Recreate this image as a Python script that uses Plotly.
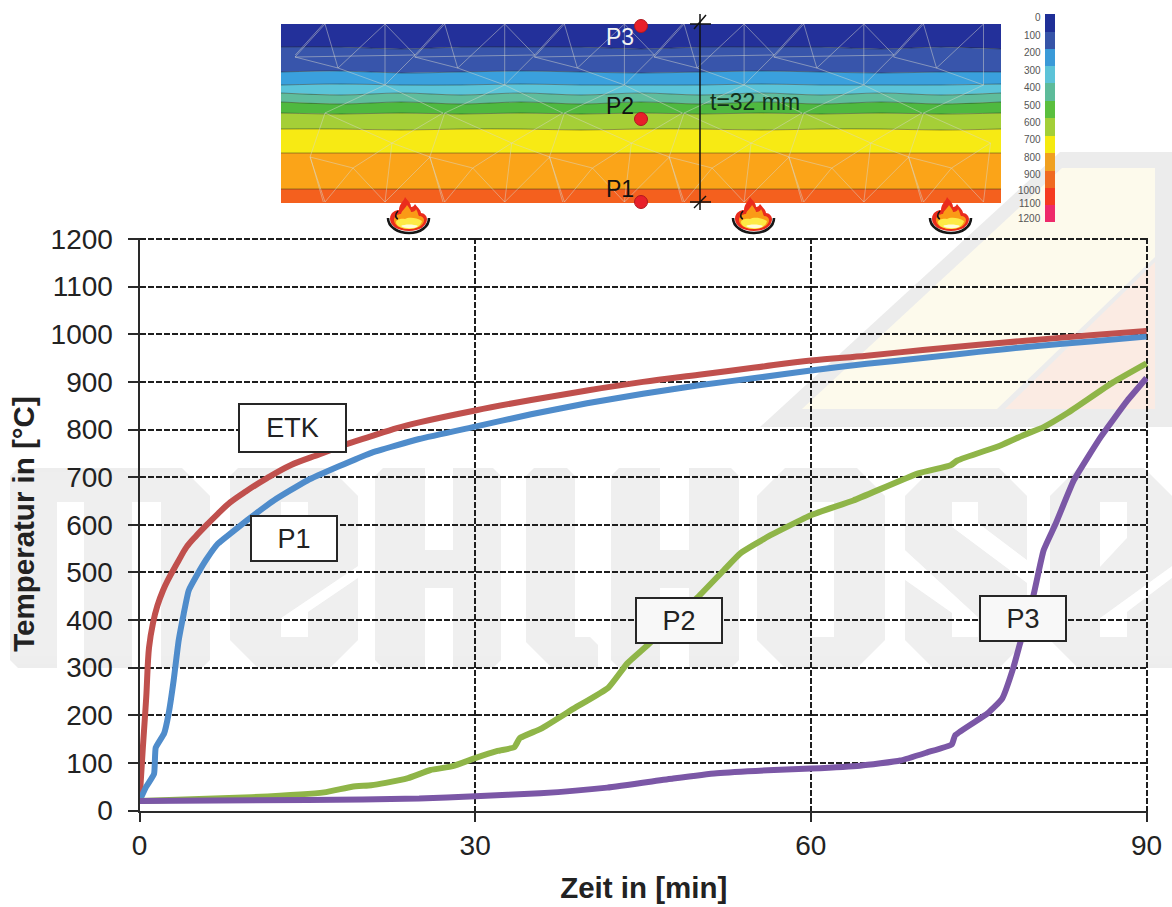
import plotly.graph_objects as go

# ---- chart data (minutes, deg C) ----
etk_t = [0, 0.3, 0.6, 0.85, 1.2, 1.6, 2.1, 2.5, 3, 3.5, 4.2, 5, 6.1, 7, 8.1, 9.5, 11.4, 13.5, 16.1, 18, 20.6, 23, 25, 30, 35, 40, 45, 50, 55, 60, 65, 70, 75, 80, 85, 90]
etk_v = [20, 132, 237, 342, 393, 430, 462, 482, 504, 525, 553, 575, 602, 623, 647, 670, 698, 725, 748, 765, 785, 803, 815, 840, 862, 882, 900, 915, 930, 945, 955, 967, 978, 988, 998, 1007]
p1_t = [0, 0.6, 1.3, 1.45, 2.2, 2.6, 3.05, 3.5, 3.95, 4.4, 5.2, 6, 7, 8.2, 9.6, 12, 15, 20.6, 25, 30, 35, 40, 45, 50, 55, 60, 65, 70, 75, 80, 85, 90]
p1_v = [20, 50, 77, 132, 162, 203, 273, 357, 413, 462, 497, 528, 560, 583, 609, 651, 693, 750, 780, 806, 832, 855, 875, 893, 908, 924, 938, 950, 963, 975, 985, 995]
p2_t = [0, 10, 16.5, 19, 20.7, 22, 24, 26, 28, 30, 32, 33.5, 34, 35.9, 38.8, 41.9, 43.6, 45.4, 49.9, 52.2, 53.7, 56.4, 60, 63.8, 69.6, 72.5, 73.1, 77, 79, 80.8, 82.9, 87, 90]
p2_v = [20, 28, 38, 50, 53, 58, 68, 85, 93, 110, 125, 133, 152, 172, 214, 258, 309, 347, 448, 504, 540, 578, 620, 651, 708, 725, 735, 767, 788, 805, 834, 899, 939]
p3_t = [0, 15, 25, 30, 35.8, 41.8, 47.7, 51.6, 56.7, 60, 64.4, 68, 70.4, 72.6, 72.9, 75.8, 77.1, 78.1, 78.7, 79.9, 80.8, 81.9, 83.5, 85.9, 88.3, 90]
p3_v = [20, 22, 25, 30, 36, 48, 67, 78, 85, 88, 94, 105, 122, 139, 158, 204, 235, 300, 351, 452, 546, 603, 693, 784, 861, 908]
series_names = ["ETK", "P1", "P2", "P3"]
x_ticks = [0, 30, 60, 90]
y_ticks = list(range(0, 1201, 100))

# ---- section picture: band boundaries sampled along the slab ----
band_x = [281, 341, 401, 461, 521, 581, 641, 701, 761, 821, 881, 941, 1001]
boundaries = [
    [24, 24, 24, 24, 24, 24, 24, 24, 24, 24, 24, 24, 24],
    [47, 47, 49, 47, 47, 47, 49, 47, 47, 47, 49, 47, 49],
    [72, 71, 73, 72, 71, 72, 73, 72, 71, 72, 73, 72, 72],
    [85, 84, 85, 85, 84, 85, 85, 85, 84, 85, 85, 85, 84],
    [93, 95, 93, 95, 93, 95, 93, 95, 93, 95, 93, 95, 93],
    [102, 104, 102, 104, 102, 104, 102, 104, 102, 104, 102, 104, 102],
    [113, 114, 113, 114, 113, 114, 113, 114, 113, 114, 113, 114, 113],
    [129, 129, 130, 129, 129, 130, 129, 129, 130, 129, 129, 130, 129],
    [153, 153, 153, 153, 153, 153, 153, 153, 153, 153, 153, 153, 153],
    [189, 189, 189, 189, 189, 189, 189, 189, 189, 189, 189, 189, 189],
    [203, 203, 203, 203, 203, 203, 203, 203, 203, 203, 203, 203, 203],
]
band_colors = ["#23309a", "#3855ab", "#3aa0dd", "#5bc4d9", "#5fbd9c", "#4fb93f", "#a5cf37", "#f7ea14", "#fba418", "#f4601e"]
scale_labels = ["0", "100", "200", "300", "400", "500", "600", "700", "800", "900", "1000", "1100", "1200"]
scale_label_y = [17, 35, 52, 70, 87, 105, 122, 139, 157, 174, 190, 203, 218]
scale_edges = [14, 32, 49, 66, 83, 101, 118, 136, 153, 171, 188, 205, 222]
scale_colors = ["#1f2f97", "#3654a8", "#3a9ad8", "#5cc3d8", "#5dbb9a", "#5abf3e", "#a3cf38", "#f5ea10", "#f0a020", "#f06a20", "#f53b20", "#ee2a6a"]
mesh_period = 119.7
mesh_edges = [
    ((325, 24), (295, 57)), ((325, 24), (338, 68)), ((295, 57), (338, 68)), ((295, 57), (415, 55)),
    ((338, 68), (385, 24)), ((338, 68), (385, 85)), ((385, 24), (385, 85)), ((385, 24), (415, 55)),
    ((415, 55), (443, 24)), ((415, 55), (385, 85)), ((385, 85), (325, 113)), ((385, 85), (443, 113)),
    ((325, 113), (392, 143)), ((392, 143), (443, 113)), ((325, 113), (310, 157)), ((310, 157), (353, 168)),
    ((392, 143), (353, 168)), ((353, 168), (325, 202)), ((310, 157), (325, 202)), ((353, 168), (385, 202)),
    ((392, 143), (385, 202)), ((392, 143), (430, 157)), ((430, 157), (385, 202)), ((430, 157), (443, 202)),
]
flame_x = [408, 753, 950]
point_labels = [("P3", 620, 37, "#f2f2f2"), ("P2", 620, 106, "#111111"), ("P1", 620, 189, "#111111")]
point_dots_y = [26, 119, 202]

# ---- boxed labels: name, left, right, top, bottom (page pixels) ----
boxes = [("ETK", 238, 347, 403, 453), ("P1", 250, 338, 515, 562), ("P2", 635, 723, 597, 644), ("P3", 979, 1067, 595, 642)]

W, H = 1172, 907
FONT = "Liberation Sans, Arial, sans-serif"
fig = go.Figure()


def poly(points):
    return "M " + " L ".join(f"{x},{y}" for x, y in points) + " Z"


def bg(points, color):
    fig.add_shape(type="path", path=poly(points), xref="x", yref="y", fillcolor=color, line_width=0, layer="below")


# ---- watermark, behind everything ----
WM = "#ededed"
T, B = 468, 668
bg([(760, 427), (1060, 152), (1172, 152), (1172, 427)], "#ececec")
bg([(802, 409), (1062, 168), (1155, 168), (1155, 257), (997, 409)], "#fdfaec")
bg([(1005, 409), (1152, 265), (1155, 262), (1155, 409)], "#fbebe3")


def glyph(l, r, ch=28, bl=0, br=0):
    bg([(l, T + 8), (l + 8, T), (r - ch, T), (r, T + ch), (r, B - max(br, 8)), (r - max(br, 8), B), (l + max(bl, 8), B), (l, B - max(bl, 8))], WM)


glyph(10, 210)
bg([(57, 502), (84, 502), (84, 670), (57, 670)], "#ffffff")
bg([(132, 502), (161, 502), (161, 670), (132, 670)], "#ffffff")
glyph(230, 358, 28, 28, 28)
bg([(281, 502), (308, 502), (308, 540), (281, 562)], "#ffffff")
bg([(358, 566), (281, 618), (281, 637), (308, 637), (308, 612), (358, 578)], "#ffffff")
glyph(375, 501, 8)
bg([(425, 460), (453, 460), (453, 550), (425, 550)], "#ffffff")
bg([(425, 588), (453, 588), (453, 670), (425, 670)], "#ffffff")
bg([(526, 476), (534, 468), (567, 468), (575, 476), (575, 637), (590, 637), (598, 645), (598, 668), (552, 668), (526, 642)], WM)
glyph(611, 739, 8)
bg([(660, 460), (689, 460), (689, 550), (660, 550)], "#ffffff")
bg([(660, 588), (689, 588), (689, 670), (660, 670)], "#ffffff")
glyph(757, 885, 28, 28, 28)
bg([(785, 468), (757, 468), (757, 496)], "#ffffff")
bg([(812, 502), (834, 502), (834, 637), (812, 637)], "#ffffff")
bg([(905, 496), (933, 468), (999, 468), (1027, 496), (1027, 640), (999, 668), (933, 668), (905, 640)], WM)
bg([(952, 502), (978, 502), (978, 523), (1027, 560), (1027, 583), (952, 527)], "#ffffff")
bg([(905, 550), (978, 617), (978, 637), (952, 637), (952, 613), (905, 580)], "#ffffff")
bg([(1050, 496), (1078, 468), (1144, 468), (1172, 496), (1172, 668), (1078, 668), (1050, 640)], WM)
bg([(1100, 502), (1127, 502), (1127, 538), (1100, 567)], "#ffffff")
bg([(1172, 566), (1100, 618), (1100, 637), (1127, 637), (1127, 612), (1172, 578)], "#ffffff")

# soft lightening towards the middle of the watermark
for d in range(8, 100, 8):
    fig.add_shape(type="rect", x0=0, x1=W, y0=568 - d, y1=568 + d, xref="x", yref="y", fillcolor="rgba(255,255,255,0.06)", line_width=0, layer="below")

# ---- slab section ----
for i, color in enumerate(band_colors):
    xs = band_x + band_x[::-1] + [band_x[0]]
    ys = boundaries[i] + boundaries[i + 1][::-1] + [boundaries[i][0]]
    fig.add_trace(go.Scatter(x=xs, y=ys, mode="lines", fill="toself", fillcolor=color, line_width=0,
                             hoverinfo="skip", showlegend=False, xaxis="x", yaxis="y"))
for row in boundaries[1:-1]:
    fig.add_trace(go.Scatter(x=band_x, y=row, mode="lines", line=dict(color="rgba(30,40,30,0.45)", width=1, shape="spline", smoothing=1),
                             hoverinfo="skip", showlegend=False, xaxis="x", yaxis="y"))
mx, my = [], []
for k in range(-1, 6):
    for a, b in mesh_edges:
        xa, xb = a[0] + k * mesh_period, b[0] + k * mesh_period
        if xa < 281 or xb < 281 or xa > 1001 or xb > 1001:
            continue
        mx += [xa, xb, None]
        my += [a[1], b[1], None]
fig.add_trace(go.Scatter(x=mx, y=my, mode="lines", line=dict(color="rgba(215,215,205,0.48)", width=1),
                         hoverinfo="skip", showlegend=False, xaxis="x", yaxis="y"))
# thickness dimension
fig.add_trace(go.Scatter(x=[700, 700, None, 690, 711, None, 694, 706, None, 690, 711, None, 694, 706],
                         y=[14, 210, None, 24, 24, None, 29, 15, None, 202, 202, None, 208, 196],
                         mode="lines", line=dict(color="#111111", width=1.5), hoverinfo="skip", showlegend=False, xaxis="x", yaxis="y"))
fig.add_trace(go.Scatter(x=[641] * len(point_dots_y), y=point_dots_y, mode="markers",
                         marker=dict(color="#e8202a", size=13, line=dict(color="#b01820", width=1)),
                         hoverinfo="skip", showlegend=False, xaxis="x", yaxis="y"))
# colour scale
fig.add_trace(go.Heatmap(x=[1045, 1055], y=scale_edges, z=[[i] for i in range(len(scale_colors))],
                         colorscale=[[v, c] for i, c in enumerate(scale_colors) for v in (i / len(scale_colors), (i + 1) / len(scale_colors))],
                         zmin=-0.5, zmax=len(scale_colors) - 0.5, showscale=False, hoverinfo="skip", xaxis="x", yaxis="y"))

# ---- curves ----
for name, t, v, c, sm in zip(series_names, [etk_t, p1_t, p2_t, p3_t], [etk_v, p1_v, p2_v, p3_v],
                             ["#c0504d", "#4f8ccb", "#8fb548", "#7b57a6"], [1.0, 0.4, 0.4, 0.4]):
    fig.add_trace(go.Scatter(x=t, y=v, name=name, mode="lines", line=dict(color=c, width=6, shape="spline", smoothing=sm), cliponaxis=False,
                             showlegend=False, xaxis="x2", yaxis="y2"))

# ---- flames: (command, control points relative to the flame centre) ----
flame_outer = [("M", [(-18, 3)]), ("C", [(-18, -4), (-12, -6), (-9, -6)]), ("C", [(-9, -12), (-4, -15), (-3, -19)]),
               ("C", [(0, -15), (3, -13), (3, -9)]), ("C", [(5, -9), (6, -10), (7, -12)]), ("C", [(10, -8), (13, -6), (13, -3)]),
               ("C", [(16, -3), (19, 0), (19, 3)]), ("C", [(19, 10), (12, 15), (1, 15)]), ("C", [(-10, 15), (-18, 10), (-18, 3)])]
flame_mid = [("M", [(-14, 4)]), ("C", [(-14, 0), (-10, -2), (-7, -2)]), ("C", [(-6, -6), (-2, -8), (-1, -11)]),
             ("C", [(1, -8), (3, -6), (3, -4)]), ("C", [(6, -4), (8, -6), (8, -7)]), ("C", [(10, -4), (10, -1), (11, 0)]),
             ("C", [(14, 0), (16, 2), (16, 4)]), ("C", [(16, 9), (10, 13), (1, 13)]), ("C", [(-8, 13), (-14, 9), (-14, 4)])]
flame_yellow = [("M", [(-12, 6)]), ("C", [(-12, 4), (-7, 2), (-3, 3)]), ("C", [(0, 1), (8, 1), (14, 5)]),
                ("C", [(13, 10), (8, 13), (1, 13)]), ("C", [(-6, 13), (-12, 10), (-12, 6)])]
flame_white = [("M", [(-7, 10)]), ("C", [(-4, 8), (6, 8), (10, 10)]), ("C", [(7, 13), (-3, 13), (-7, 10)])]
flame_rim = [("M", [(-20, 2)]), ("C", [(-20, 11), (-10, 17), (1, 17)]), ("C", [(12, 17), (21, 11), (21, 2)])]
flame_curl = [("M", [(-10, -5)]), ("C", [(-13, -2), (-13, 2), (-10, 3)])]


def rel_path(segments, cx, cy, close=True):
    out = []
    for cmd, pts in segments:
        out.append(cmd + " " + " ".join(f"{cx + dx},{cy + dy}" for dx, dy in pts))
    return " ".join(out) + (" Z" if close else "")


for cx in flame_x:
    for seg, col in ((flame_outer, "#ea2c1c"), (flame_mid, "#fa9a16"), (flame_yellow, "#fdea45"), (flame_white, "#fffbd8")):
        fig.add_shape(type="path", xref="x", yref="y", layer="above", fillcolor=col, line_width=0, path=rel_path(seg, cx, 216))
    for seg, wid in ((flame_rim, 2.6), (flame_curl, 1.6)):
        fig.add_shape(type="path", xref="x", yref="y", layer="above", line=dict(color="#161616", width=wid), path=rel_path(seg, cx, 216, close=False))

# ---- texts ----
for txt, x, y, c in point_labels:
    fig.add_annotation(text=txt, x=x, y=y, xref="x", yref="y", showarrow=False, font=dict(family=FONT, size=23, color=c))
fig.add_annotation(text="t=32 mm", x=755, y=102, xref="x", yref="y", showarrow=False, font=dict(family=FONT, size=23, color="#12301a"))
for lab, y in zip(scale_labels, scale_label_y):
    fig.add_annotation(text=lab, x=1043, y=y, xref="x", yref="y", xanchor="right", showarrow=False, font=dict(family=FONT, size=10, color="#555555"))
for name, l, r, t, b in boxes:
    fig.add_annotation(text=name, x=(l + r) / 2, y=(t + b) / 2, xref="x", yref="y", showarrow=False,
                       width=r - l - 4, height=b - t - 4, align="center", valign="middle", bgcolor="#ffffff" if name in ("ETK", "P1") else "#f8f8f8",
                       bordercolor="#262626", borderwidth=2, borderpad=0, font=dict(family=FONT, size=27, color="#222222"))

grid = dict(showgrid=True, gridcolor="#1e1e1e", gridwidth=2.4, griddash="6px,2px", showline=True, linecolor="#2a2a2a", linewidth=2,
            ticks="outside", tickcolor="#2a2a2a", tickwidth=2, zeroline=False, automargin=False,
            tickfont=dict(family=FONT, size=28, color="#222222"))
fig.update_layout(
    width=W, height=H, autosize=False, showlegend=False, paper_bgcolor="#ffffff", plot_bgcolor="rgba(0,0,0,0)",
    margin=dict(l=0, r=0, t=0, b=0, autoexpand=False),
    xaxis=dict(domain=[0, 1], range=[0, W], visible=False, fixedrange=True, automargin=False),
    yaxis=dict(domain=[0, 1], range=[H, 0], visible=False, fixedrange=True, automargin=False),
    xaxis2=dict(grid, domain=[139.5 / W, 1148 / W], range=[0, 90.134], tickvals=x_ticks, ticklen=9, anchor="y2",
                title=dict(text="<b>Zeit in [min]</b>", standoff=17, font=dict(family=FONT, size=29.5, color="#222222"))),
    yaxis2=dict(grid, domain=[(H - 810.5) / H, (H - 237.5) / H], range=[0, 1203.15], tickvals=y_ticks, ticklen=10, anchor="x2", ticklabelstandoff=9,
                title=dict(text="<b>Temperatur in [°C]</b>", standoff=7, font=dict(family=FONT, size=29.5, color="#222222"))),
)
fig.write_html("out.html", config={"displayModeBar": False},
               post_script="document.body.style.margin='0';document.documentElement.style.overflow='hidden';")
